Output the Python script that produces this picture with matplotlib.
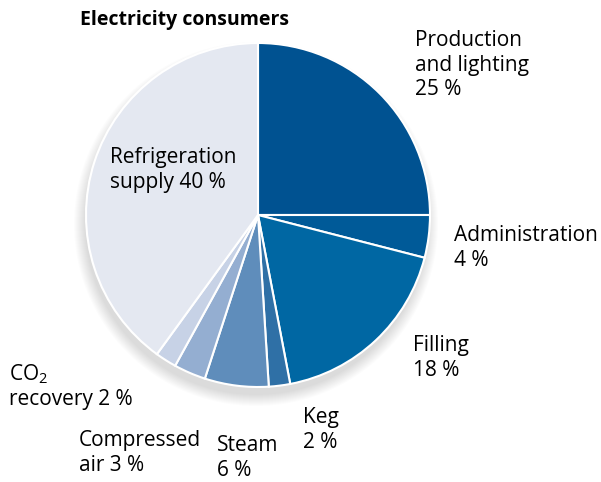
import numpy as np
import matplotlib
matplotlib.use("Agg")
import matplotlib.pyplot as plt
from matplotlib.patches import Circle

plt.rcParams['font.family'] = ['Open Sans', 'DejaVu Sans']
plt.rcParams['mathtext.fontset'] = 'custom'
plt.rcParams['mathtext.rm'] = 'Open Sans'
plt.rcParams['mathtext.it'] = 'Open Sans'

title = "Electricity consumers"
consumers = ["Production\nand lighting", "Administration", "Filling", "Keg",
             "Steam", "Compressed\nair", "CO$_2$\nrecovery", "Refrigeration\nsupply"]
shares = [25, 4, 18, 2, 6, 3, 2, 40]
colors = ["#005291", "#005a98", "#0067a3", "#2f70a6", "#5f8dbb",
          "#94aed1", "#c7d2e6", "#e4e8f1"]

# label anchors (top-left, pixel coords from top) and whether the % goes on a new line
label_pos = [(415, 30, True), (454, 225, True), (413, 335, True), (303, 407, True),
             (217, 435, True), (79, 430, False), (9, 362, False), (110, 147, False)]

W, H = 601, 482
fig = plt.figure(figsize=(W / 100, H / 100), dpi=100)
ax = fig.add_axes([0, 0, 1, 1])
ax.set_xlim(0, W)
ax.set_ylim(0, H)
ax.set_aspect('equal')
ax.axis('off')

cx, cy, r = 258, H - 215, 172

# soft drop shadow
for k in range(12):
    ax.add_patch(Circle((cx - 2, cy - 9), r + 10 - k, color='black',
                        alpha=0.01, lw=0, zorder=0))

ax.pie(shares, colors=colors, startangle=90, counterclock=False,
       center=(cx, cy), radius=r, frame=True,
       wedgeprops=dict(edgecolor='white', linewidth=1.5))
ax.set_xlim(0, W)
ax.set_ylim(0, H)
ax.axis('off')

for name, val, (x, y, newline) in zip(consumers, shares, label_pos):
    sep = "\n" if newline else " "
    ax.text(x, H - y, f"{name}{sep}{val} %", ha='left', va='top',
            fontsize=15, color='black', linespacing=1.22)

ax.text(80, H - 10, title, ha='left', va='top', fontsize=14, fontweight='bold')

fig.savefig("out.png", dpi=100)
